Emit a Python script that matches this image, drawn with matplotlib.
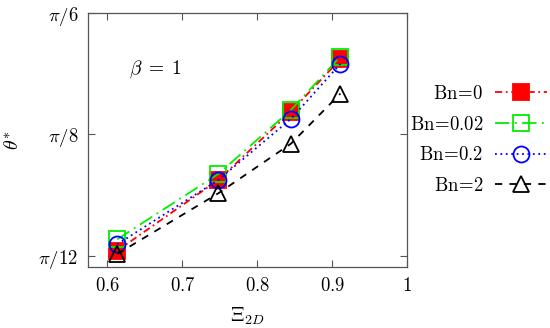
import numpy as np
import matplotlib
matplotlib.use("Agg")
import matplotlib.pyplot as plt

plt.rcParams["mathtext.fontset"] = "cm"
plt.rcParams["font.family"] = "DejaVu Serif"

# Xi_2D positions of the four runs
xi = [0.613, 0.748, 0.845, 0.911]

# theta* for each Bingham number
theta_bn0 = [0.2675, 0.3437, 0.4172, 0.4737]
theta_bn002 = [0.2798, 0.3501, 0.4190, 0.4765]
theta_bn02 = [0.2744, 0.3437, 0.4094, 0.4686]
theta_bn2 = [0.2640, 0.3293, 0.3827, 0.4366]

labels = [r"$\mathrm{Bn\!=\!0}$", r"$\mathrm{Bn\!=\!0.02}$",
          r"$\mathrm{Bn\!=\!0.2}$", r"$\mathrm{Bn\!=\!2}$"]

STYLE = [
    dict(color="#ff0000", marker="s", mfc="#ff0000", dashes=(4, 2, 1, 2), ms=12),
    dict(color="#00ee00", marker="s", mfc="none", dashes=(8, 3, 1, 3), ms=12),
    dict(color="#0000ff", marker="o", mfc="none", dashes=(1, 2), ms=11.5),
    dict(color="#000000", marker="^", mfc="none", dashes=(4, 4), ms=12),
]

fig = plt.figure(figsize=(5.5, 3.28), dpi=100)
ax = fig.add_axes([0.16, 0.186, 0.58, 0.775])

for ys, lab, st in zip([theta_bn0, theta_bn002, theta_bn02, theta_bn2], labels, STYLE):
    ax.plot(xi, ys, color=st["color"], marker=st["marker"], mfc=st["mfc"],
            mec=st["color"], ms=st["ms"], mew=1.3, lw=1.3,
            dashes=st["dashes"], label=lab)

ax.set_xlim(0.574, 1.0)
ax.set_ylim(0.25, np.pi / 6)
ax.set_xticks([0.6, 0.7, 0.8, 0.9, 1.0])
ax.set_xticklabels(["$0.6$", "$0.7$", "$0.8$", "$0.9$", "$1$"])
ax.set_yticks([np.pi / 12, np.pi / 8, np.pi / 6])
ax.set_yticklabels([r"$\pi/12$", r"$\pi/8$", r"$\pi/6$"])
ax.tick_params(direction="in", length=5, width=0.8, color="#555555",
               top=True, right=True, labelsize=13.5, pad=7)
for s in ax.spines.values():
    s.set_color("#555555")
    s.set_linewidth(0.9)

ax.set_xlabel(r"$\Xi_{2D}$", fontsize=14.5, labelpad=8)
ax.set_ylabel(r"$\theta^{*}$", fontsize=14.5, labelpad=11)
ax.text(0.13, 0.76, r"$\beta\;=\;1$", transform=ax.transAxes, fontsize=14)

ax.legend(loc="center left", bbox_to_anchor=(0.985, 0.5), frameon=False,
          markerfirst=False, fontsize=13.5, handlelength=2.8, labelspacing=0.68,
          handletextpad=0.6, borderaxespad=0)

fig.savefig("out.png", dpi=100)
